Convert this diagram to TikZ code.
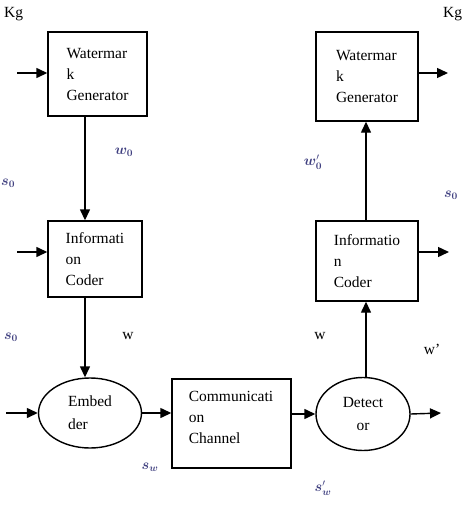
\documentclass[tikz,border=0pt]{standalone}
\usepackage{fontspec}
\setmainfont{Liberation Serif}
\usepackage{bm}
\usetikzlibrary{shapes.geometric,arrows.meta}
\definecolor{labelc}{rgb}{0.25,0.25,0.50}
\tikzset{
  blockbox/.style={draw, line width=1.4pt, inner sep=0pt, align=left,
    font=\fontsize{15.5}{21}\selectfont},
  blocktext/.style={inner sep=0pt, align=left, font=\fontsize{15.5}{21}\selectfont},
  ovalbox/.style={draw, ellipse, line width=1.4pt, inner sep=0pt,
    font=\fontsize{15.5}{23}\selectfont},
  arr/.style={line width=1.4pt, -{Triangle[length=11pt,width=10pt]}},
  txt/.style={font=\fontsize{15.5}{18}\selectfont, inner sep=0pt},
  mlab/.style={font=\fontsize{14}{15}\selectfont, text=labelc, inner sep=0pt}
}
\begin{document}
\begin{tikzpicture}[x=1pt,y=-1pt]
\useasboundingbox (0,0) rectangle (461,509);
% blocks
\node[blockbox, minimum width=99pt, minimum height=84pt] (lwg) at (97.5,74) {Watermar\\k\\Generator};
\node[blockbox, minimum width=94pt, minimum height=76pt] (lic) at (95,259) {Informati\\on\\Coder};
\node[ovalbox, align=left, minimum width=103pt, minimum height=70pt] (emb) at (90,413) {Embed\\der};
\node[blockbox, minimum width=119pt, minimum height=89pt] (com) at (231.5,423.5) {};
\node[blocktext] (comtxt) at (231,417.5) {Communicati\\on\\Channel};
\node[ovalbox, align=center, minimum width=94pt, minimum height=73pt] (det) at (363,414) {Detect\\or};
\node[blockbox, minimum width=102pt, minimum height=80pt] (ric) at (367,261) {Informatio\\n\\Coder};
\node[blockbox, minimum width=102pt, minimum height=89pt] (rwg) at (367,76.5) {Watermar\\k\\Generator};
% free ends
\coordinate (lx) at (85,0);
\coordinate (rx) at (366,0);
\coordinate (i1) at (17,73);
\coordinate (i2) at (17,252);
\coordinate (i3) at (6,413);
\coordinate (o1) at (448,73);
\coordinate (o2) at (449,252);
\coordinate (o3) at (441,413);
% connectors
\draw[arr] (i1) -- (i1 -| lwg.west);
\draw[arr] (i2) -- (i2 -| lic.west);
\draw[arr] (i3) -- (emb.west);
\draw[arr] (lwg.south -| lx) -- (lic.north -| lx);
\draw[arr] (lic.south -| lx) -- (emb.north -| lx);
\draw[arr] (emb.east) -- (emb.east -| com.west);
\draw[arr] (det.west -| com.east) -- (det.west);
\draw[arr] (det.east) -- (o3);
\draw[arr] (det.north -| rx) -- (ric.south -| rx);
\draw[arr] (ric.north -| rx) -- (rwg.south -| rx);
\draw[arr] (o2 -| ric.east) -- (o2);
\draw[arr] (o1 -| rwg.east) -- (o1);
% labels
\node[txt, anchor=west] (kg1) at (4,14) {Kg};
\node[txt, anchor=west] (kg2) at (443,14) {Kg};
\node[txt] (wl) at (128,336) {w};
\node[txt] (wr) at (320,336) {w};
\node[txt] (wp) at (432,349) {w’};
\node[mlab] (w0) at (124,152) {$\bm{w}_{\bm 0}$};
\node[mlab] (w0p) at (313,162) {$\bm{w}'_{\bm 0}$};
\node[mlab, anchor=west] (s0a) at (1,183) {$\bm{s}_{\bm 0}$};
\node[mlab] (s0b) at (11,337) {$\bm{s}_{\bm 0}$};
\node[mlab] (s0c) at (451,195) {$\bm{s}_{\bm 0}$};
\node[mlab] (sw) at (150,467) {$\bm{s}_{\bm w}$};
\node[mlab] (swp) at (323,488) {$\bm{s}'_{\bm w}$};
\end{tikzpicture}
\end{document}
